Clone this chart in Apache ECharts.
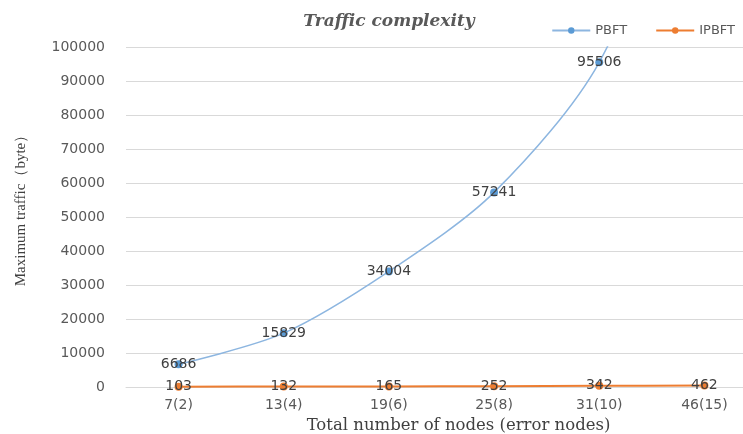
<!DOCTYPE html>
<html>
<head>
<meta charset="utf-8">
<script src="https://cdn.jsdelivr.net/npm/echarts@6/dist/echarts.min.js"></script>
<style>
  html, body { margin: 0; padding: 0; background: #fff; }
  #main { width: 743px; height: 434px; }
</style>
</head>
<body>
<div id="main"></div>
<script>
var categories = ['7(2)', '13(4)', '19(6)', '25(8)', '31(10)', '46(15)'];
var pbft = [6686, 15829, 34004, 57241, 95506, 170000];
var ipbft = [103, 132, 165, 252, 342, 462];
var yTicks = [0, 100000, 10000];

var chart = echarts.init(document.getElementById('main'));

// last PBFT point is off the top of the chart, so no label for it
var pbftData = pbft.map(function (v) {
    if (v > yTicks[1]) {
        return {value: v, label: {show: false}, symbolSize: 0};
    }
    return v;
});

var labelStyle = {
    show: true,
    position: 'inside',
    color: '#404040',
    fontSize: 14,
    fontFamily: 'DejaVu Sans'
};

var option = {
    animation: false,
    title: {
        text: 'Traffic complexity',
        left: 384,
        textAlign: 'center',
        top: 8,
        textStyle: {
            fontFamily: 'DejaVu Serif',
            fontStyle: 'italic',
            fontWeight: 'bold',
            fontSize: 17,
            color: '#595959'
        }
    },
    legend: {
        right: 3,
        top: 19,
        itemGap: 28,
        itemWidth: 38,
        itemHeight: 8,
        textStyle: {color: '#595959', fontSize: 13, fontFamily: 'DejaVu Sans'},
        data: ['PBFT', 'IPBFT']
    },
    grid: {
        left: 126,
        right: -14,
        top: 47,
        bottom: 47,
        outerBoundsMode: 'none',
        containLabel: false
    },
    xAxis: {
        type: 'category',
        data: categories,
        boundaryGap: true,
        name: 'Total number of nodes (error nodes)',
        nameLocation: 'middle',
        nameGap: 28,
        nameTextStyle: {fontFamily: 'DejaVu Serif', fontSize: 16.5, color: '#404040', padding: [0, 0, 0, 34]},
        axisLine: {lineStyle: {color: '#d9d9d9'}},
        axisTick: {show: false},
        axisLabel: {color: '#595959', fontSize: 14, fontFamily: 'DejaVu Sans', margin: 11}
    },
    yAxis: {
        type: 'value',
        min: yTicks[0],
        max: yTicks[1],
        interval: yTicks[2],
        name: 'Maximum traffic（byte）',
        nameLocation: 'middle',
        nameGap: 97,
        nameTextStyle: {fontFamily: 'Liberation Serif', fontSize: 15, color: '#404040', padding: [0, 0, 0, 20]},
        axisLine: {show: false},
        axisTick: {show: false},
        axisLabel: {
            color: '#595959', fontSize: 14, fontFamily: 'DejaVu Sans', margin: 21,
            formatter: function (v) { return String(v); }
        },
        splitLine: {lineStyle: {color: '#d9d9d9'}}
    },
    series: [
        {
            name: 'PBFT',
            type: 'line',
            smooth: 0.3,
            clip: true,
            data: pbftData,
            symbol: 'circle',
            symbolSize: 8,
            itemStyle: {color: '#5B9BD5'},
            lineStyle: {width: 1.5, color: '#8DB6E0'},
            label: labelStyle,
            z: 3
        },
        {
            name: 'IPBFT',
            type: 'line',
            smooth: 0.3,
            data: ipbft,
            symbol: 'circle',
            symbolSize: 8,
            itemStyle: {color: '#ED7D31'},
            lineStyle: {width: 2, color: '#ED7D31'},
            label: labelStyle,
            z: 4
        }
    ]
};

chart.setOption(option);
</script>
</body>
</html>
